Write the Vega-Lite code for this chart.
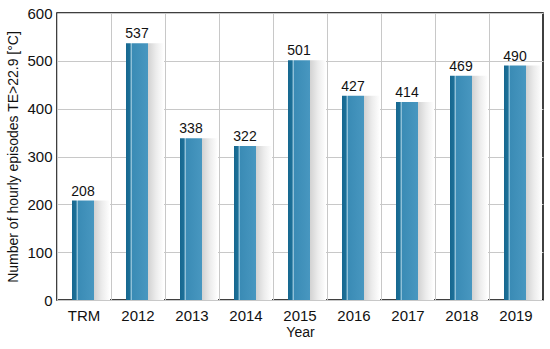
{
  "$schema": "https://vega.github.io/schema/vega-lite/v6.json",
  "width": 486,
  "height": 287,
  "autosize": "none",
  "padding": {"left": 57, "top": 13, "right": 7, "bottom": 49},
  "background": "white",
  "config": {
    "font": "Liberation Sans",
    "view": {"stroke": "black", "strokeWidth": 1.5},
    "axis": {"labelFont": "Liberation Sans", "titleFont": "Liberation Sans", "labelColor": "#111", "titleColor": "#111", "titleFontWeight": "normal"}
  },
  "data": {"values": [
    {"Year": "TRM", "Episodes": 208},
    {"Year": "2012", "Episodes": 537},
    {"Year": "2013", "Episodes": 338},
    {"Year": "2014", "Episodes": 322},
    {"Year": "2015", "Episodes": 501},
    {"Year": "2016", "Episodes": 427},
    {"Year": "2017", "Episodes": 414},
    {"Year": "2018", "Episodes": 469},
    {"Year": "2019", "Episodes": 490}
  ]},
  "encoding": {
    "x": {"field": "Year", "type": "nominal", "sort": null,
      "scale": {"paddingInner": 0, "paddingOuter": 0},
      "axis": {"labelAngle": 0, "labelFontSize": 15, "titleFontSize": 14, "title": "Year", "ticks": false, "domain": false, "grid": true, "gridColor": "#c8c8c8", "gridWidth": 1, "bandPosition": 0, "labelPadding": 8, "titlePadding": 2}},
    "y": {"field": "Episodes", "type": "quantitative",
      "scale": {"domain": [0, 600]},
      "axis": {"values": [0, 100, 200, 300, 400, 500, 600], "labelFontSize": 15, "titleFontSize": 14, "title": "Number of hourly episodes TE>22.9 [°C]", "ticks": false, "domain": false, "grid": true, "gridColor": "#c8c8c8", "gridWidth": 1, "labelPadding": 5, "titlePadding": 6}}
  },
  "layer": [
    {"mark": {"type": "bar", "width": 16, "xOffset": 18,
      "color": {"gradient": "linear", "x1": 0, "x2": 1, "y1": 0, "y2": 0,
        "stops": [{"offset": 0, "color": "#d2d2d2"}, {"offset": 0.5, "color": "#ececec"}, {"offset": 1, "color": "#ffffff"}]}}},
    {"mark": {"type": "bar", "width": 22, "xOffset": -1,
      "color": {"gradient": "linear", "x1": 0, "x2": 1, "y1": 0, "y2": 0,
        "stops": [
          {"offset": 0, "color": "#16678f"},
          {"offset": 0.2, "color": "#1d7199"},
          {"offset": 0.21, "color": "#8fc0d8"},
          {"offset": 0.26, "color": "#8fc0d8"},
          {"offset": 0.27, "color": "#3a8bb5"},
          {"offset": 1, "color": "#4897c0"}]}}},
    {"mark": {"type": "text", "dy": -9, "fontSize": 14, "color": "#111", "xOffset": -1},
     "encoding": {"text": {"field": "Episodes", "type": "quantitative"}}}
  ]
}
